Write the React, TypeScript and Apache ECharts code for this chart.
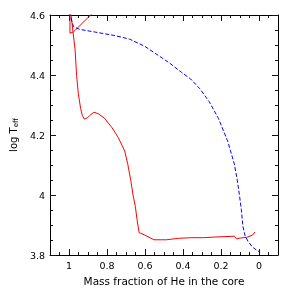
import React, { useEffect, useRef } from "react";
import * as echarts from "echarts";

const xMajorTicks = [0, 0.2, 0.4, 0.6, 0.8, 1];
const xMinorTicks = [-0.05, 0.05, 0.1, 0.15, 0.25, 0.3, 0.35, 0.45, 0.5, 0.55, 0.65, 0.7, 0.75, 0.85, 0.9, 0.95, 1.05];

// Red track: loop at the top and the long track
const redLoop: [number, number][] = [
  [0.870, 4.61], [0.976, 4.544], [0.995, 4.539], [0.995, 4.62],
];
const redTrack: [number, number][] = [
  [0.993, 4.62], [0.968, 4.485], [0.960, 4.398], [0.951, 4.338], [0.939, 4.289],
  [0.930, 4.266], [0.919, 4.253], [0.902, 4.258], [0.891, 4.265], [0.869, 4.276],
  [0.846, 4.271], [0.813, 4.256], [0.773, 4.224], [0.740, 4.191], [0.707, 4.147],
  [0.691, 4.104], [0.675, 4.049], [0.663, 4.000], [0.651, 3.962], [0.642, 3.919],
  [0.631, 3.875], [0.602, 3.867], [0.553, 3.851], [0.488, 3.851], [0.423, 3.856],
  [0.358, 3.858], [0.293, 3.858], [0.236, 3.860], [0.130, 3.863], [0.119, 3.854],
  [0.098, 3.857], [0.065, 3.859], [0.033, 3.867], [0.021, 3.877],
];
const blueTrack: [number, number][] = [
  [1.0, 4.61], [0.976, 4.561], [0.943, 4.552], [0.862, 4.543], [0.764, 4.532],
  [0.683, 4.520], [0.602, 4.496], [0.555, 4.476], [0.473, 4.441], [0.408, 4.409],
  [0.360, 4.387], [0.311, 4.354], [0.262, 4.311], [0.214, 4.256], [0.165, 4.180],
  [0.130, 4.104], [0.114, 4.049], [0.102, 3.995], [0.093, 3.952], [0.085, 3.897],
  [0.073, 3.864], [0.057, 3.845], [0.033, 3.826], [0.010, 3.815], [-0.006, 3.810],
];

const FONT = "DejaVu Sans";

function tickStyle() {
  return { color: "#111111", width: 1 };
}

export default function App() {
  const ref = useRef<HTMLDivElement>(null);
  useEffect(() => {
    if (!ref.current) return;
    const chart = echarts.init(ref.current, undefined, { renderer: "svg" });
    const makeY = (position: string, showLabel: boolean) => ({
      type: "value", min: 3.8, max: 4.6, interval: 0.2, position,
      splitLine: { show: false },
      axisLine: { show: true, onZero: false, lineStyle: { color: "#000" } },
      axisTick: { show: true, inside: true, length: 6, lineStyle: tickStyle() },
      minorTick: { show: true, splitNumber: 4, length: 3, lineStyle: tickStyle() },
      axisLabel: { show: showLabel, margin: 5, fontFamily: FONT, fontSize: 9.5, color: "#000" },
    });
    const makeX = (position: string, major: boolean) => ({
      type: "value", min: -0.1, max: 1.1, inverse: true, position,
      splitLine: { show: false },
      axisLine: { show: major, onZero: false, lineStyle: { color: "#000" } },
      axisTick: {
        show: true, inside: true, length: major ? 6 : 3,
        customValues: major ? xMajorTicks : xMinorTicks, lineStyle: tickStyle(),
      },
      axisLabel: {
        show: major && position === "bottom", customValues: xMajorTicks,
        margin: 5, fontFamily: FONT, fontSize: 9.5, color: "#000",
      },
    });
    const xBottom = {
      ...makeX("bottom", true),
      name: "Mass fraction of He in the core",
      nameLocation: "middle",
      nameGap: 17,
      nameTextStyle: { fontFamily: FONT, fontSize: 10.5, color: "#000", verticalAlign: "top" },
    };
    const yLeft = {
      ...makeY("left", true),
      name: "{n|log T}{s|eff}",
      nameLocation: "middle",
      nameRotate: 90,
      nameGap: 21,
      nameTextStyle: {
        rich: {
          n: { fontFamily: FONT, fontSize: 10, color: "#000" },
          s: { fontFamily: FONT, fontSize: 7, color: "#000", verticalAlign: "bottom", padding: [5, 0, 0, 0] },
        },
      },
    };
    chart.setOption({
      animation: false,
      grid: { left: 32, right: 8, top: 15, bottom: 31 },
      xAxis: [xBottom, makeX("bottom", false), makeX("top", true), makeX("top", false)],
      yAxis: [yLeft, makeY("right", false)],
      series: [
        { type: "line", data: redLoop, showSymbol: false,
          lineStyle: { color: "#ff0000", width: 1 } },
        { type: "line", data: redTrack, showSymbol: false,
          lineStyle: { color: "#ff0000", width: 1 } },
        { type: "line", data: blueTrack, showSymbol: false,
          lineStyle: { color: "#0000ff", width: 1, type: [4, 2] } },
      ],
    });
    return () => chart.dispose();
  }, []);
  return <div ref={ref} style={{ position: "fixed", left: 0, top: 0, width: 286, height: 291 }} />;
}
